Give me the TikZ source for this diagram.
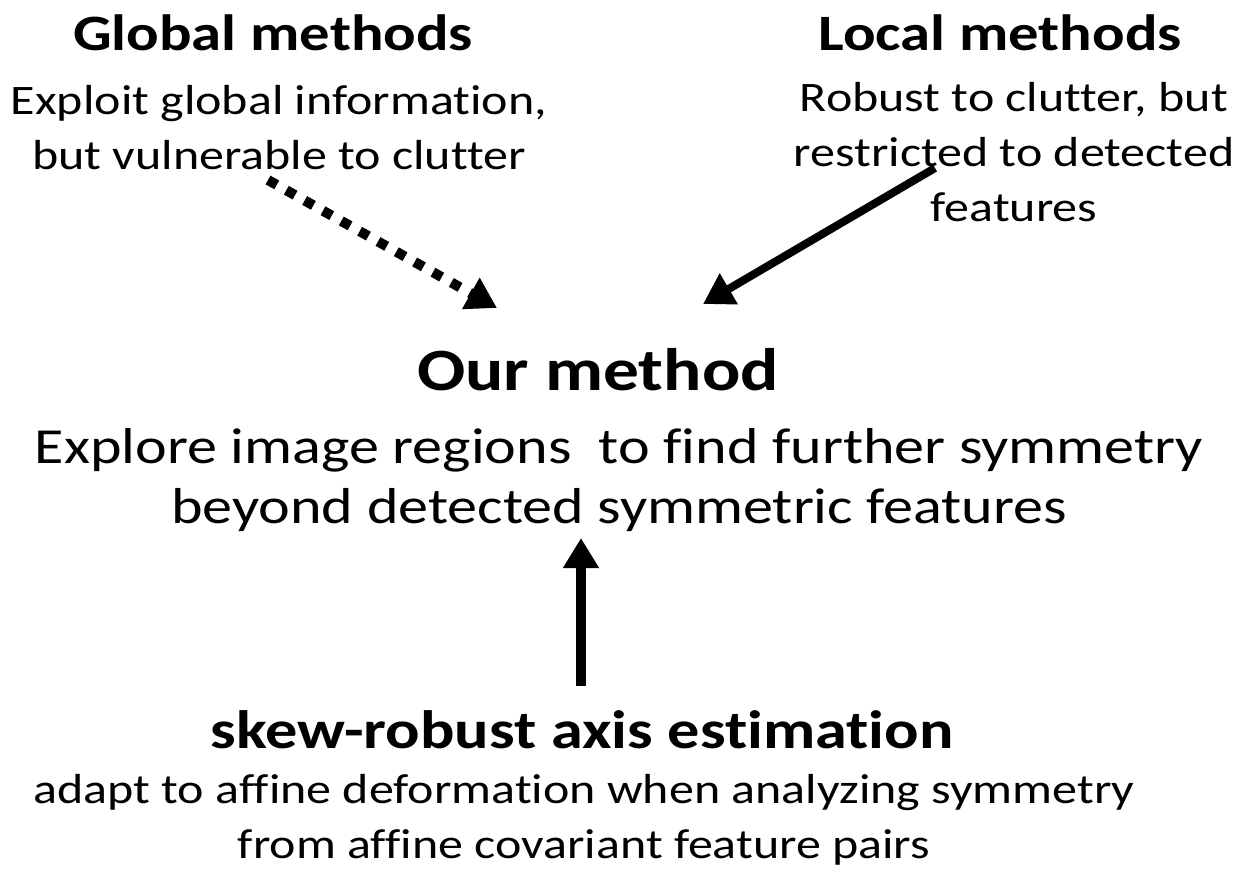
\documentclass[tikz,border=0pt]{standalone}
\usepackage{fontspec}
\setmainfont{Carlito}[FakeStretch=1.19,Ligatures={NoCommon}]
\usetikzlibrary{arrows.meta}
\begin{document}
\begin{tikzpicture}[x=1pt,y=-1pt,
  head/.style={font=\fontsize{51}{56}\selectfont\bfseries, anchor=center, inner sep=0pt},
  bighead/.style={font=\fontsize{60}{66}\selectfont\bfseries, anchor=center, inner sep=0pt},
  skewhead/.style={font=\fontsize{54}{60}\selectfont\bfseries, anchor=center, inner sep=0pt},
  body/.style={font=\fontsize{42}{55}\selectfont, anchor=center, inner sep=0pt, align=center},
  bigbody/.style={font=\fontsize{50.5}{60}\selectfont, anchor=center, inner sep=0pt, align=center},
  arr/.style={line width=9pt, -{Triangle[length=30pt,width=34pt]}}
]
\useasboundingbox (0,0) rectangle (1236,870);
\node[head] (gh) at (273,33) {Global methods};
\node[body] (gb) at (279,128) {Exploit global information,\\but vulnerable to clutter};
\node[head] (lh) at (1000,33) {Local methods};
\node[body] (lb) at (1014,152) {Robust to clutter, but\\restricted to detected\\features};
\node[bighead] (oh) at (598,370) {Our method};
\node[bigbody] (ob) at (619,480) {Explore image regions\ \ to find further symmetry\\beyond detected symmetric features};
\node[skewhead] (sh) at (582,730) {skew-robust axis estimation};
\node[body] (sb) at (584,820) {adapt to affine deformation when analyzing symmetry\\from affine covariant feature pairs};
\coordinate (d1) at (268,180);
\coordinate (d2) at (497,308);
\coordinate (s1) at (935,168);
\coordinate (s2) at (703,304);
\coordinate (u1) at (581,686);
\coordinate (u2) at (581,538);
\draw[arr, line width=10pt, dash pattern=on 10pt off 11pt] (d1) -- (d2);
\draw[arr, line width=8pt] (s1) -- (s2);
\draw[arr, line width=10pt] (u1) -- (u2);
\end{tikzpicture}
\end{document}
